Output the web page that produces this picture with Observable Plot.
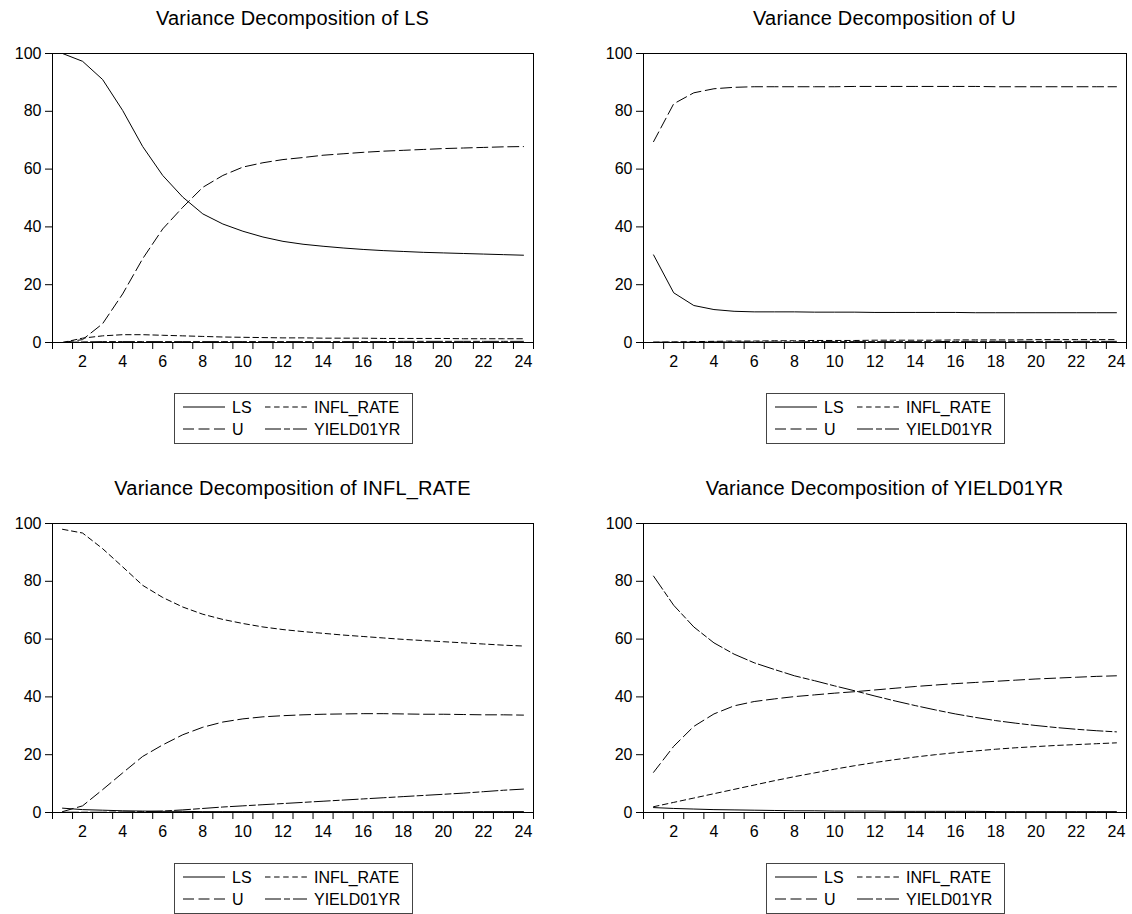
<!DOCTYPE html>
<html>
<head>
<meta charset="utf-8">
<script src="https://cdn.jsdelivr.net/npm/d3@7"></script>
<script src="https://cdn.jsdelivr.net/npm/@observablehq/plot@0.6"></script>
<style>
  html, body { margin: 0; padding: 0; background: #fff; }
  #root { position: relative; width: 1132px; height: 914px; overflow: hidden; font-family: "Liberation Sans", Arial, sans-serif; color: #000; }
  .title { position: absolute; width: 566px; text-align: center; font-size: 20px; line-height: 20px; white-space: nowrap; letter-spacing: 0.2px; }
  .panel { position: absolute; }
  .legend { position: absolute; }
</style>
</head>
<body>
<div id="root"></div>
<script>
// ---------- data ----------
const horizons = [1,2,3,4,5,6,7,8,9,10,11,12,13,14,15,16,17,18,19,20,21,22,23,24];
const seriesNames = ["LS", "U", "INFL_RATE", "YIELD01YR"];
const panelTitles = ["Variance Decomposition of LS", "Variance Decomposition of U",
                     "Variance Decomposition of INFL_RATE", "Variance Decomposition of YIELD01YR"];
const yTicks = [0, 20, 40, 60, 80, 100];
const xLabelTicks = [2,4,6,8,10,12,14,16,18,20,22,24];

// Variance decomposition of LS
const ls_LS    = [100,97.3,91,80.3,67.8,57.8,50.3,44.5,41,38.5,36.5,35,34,33.3,32.7,32.2,31.8,31.5,31.2,31,30.8,30.6,30.4,30.2];
const ls_U     = [0,1,6.5,16.8,29,39.3,46.8,53.7,57.8,60.7,62.2,63.3,64,64.8,65.3,65.8,66.2,66.5,66.8,67.1,67.3,67.5,67.7,67.8];
const ls_INFL  = [0,1.5,2.3,2.7,2.7,2.5,2.3,2.1,1.9,1.8,1.7,1.6,1.6,1.5,1.5,1.5,1.4,1.4,1.4,1.4,1.3,1.3,1.3,1.3];
const ls_YIELD = [0,0.2,0.3,0.3,0.3,0.3,0.3,0.3,0.3,0.3,0.3,0.3,0.3,0.3,0.3,0.3,0.3,0.4,0.4,0.4,0.4,0.4,0.4,0.4];

// Variance decomposition of U
const u_LS    = [30.3,17.2,12.8,11.4,10.8,10.6,10.6,10.6,10.5,10.5,10.5,10.4,10.4,10.4,10.4,10.4,10.3,10.3,10.3,10.3,10.3,10.3,10.3,10.3];
const u_U     = [69.5,82.6,86.4,87.8,88.3,88.5,88.5,88.5,88.5,88.5,88.6,88.6,88.6,88.6,88.6,88.6,88.6,88.5,88.5,88.5,88.5,88.5,88.5,88.5];
const u_INFL  = [0.1,0.2,0.3,0.4,0.5,0.5,0.6,0.6,0.7,0.7,0.7,0.8,0.8,0.8,0.8,0.9,0.9,0.9,0.9,1,1,1,1,1];
const u_YIELD = [0.1,0.1,0.1,0.2,0.2,0.2,0.2,0.2,0.3,0.3,0.3,0.3,0.3,0.3,0.3,0.4,0.4,0.4,0.4,0.4,0.4,0.4,0.4,0.4];

// Variance decomposition of INFL_RATE
const infl_LS    = [1.5,1,0.8,0.6,0.5,0.4,0.4,0.3,0.3,0.3,0.3,0.3,0.3,0.3,0.3,0.3,0.3,0.3,0.3,0.3,0.3,0.3,0.3,0.3];
const infl_U     = [0.3,2.3,7.9,13.7,19.4,23.4,26.9,29.5,31.3,32.4,33.1,33.5,33.8,34,34.1,34.2,34.2,34.1,34,34,33.9,33.8,33.8,33.7];
const infl_INFL  = [98,96.7,91.3,85,78.6,74.4,71.1,68.6,66.8,65.4,64.2,63.3,62.6,62,61.4,60.9,60.4,59.9,59.5,59.1,58.7,58.3,57.9,57.6];
const infl_YIELD = [0.1,0.1,0.1,0.2,0.3,0.5,0.9,1.4,1.9,2.3,2.7,3.1,3.5,3.9,4.3,4.7,5.1,5.5,5.9,6.3,6.7,7.2,7.7,8.1];

// Variance decomposition of YIELD01YR
const y_LS    = [1.7,1.4,1.2,1,0.9,0.8,0.7,0.6,0.6,0.5,0.5,0.5,0.4,0.4,0.4,0.4,0.4,0.3,0.3,0.3,0.3,0.3,0.3,0.3];
const y_U     = [13.9,22.9,29.8,34.1,36.9,38.4,39.3,40.1,40.7,41.3,41.8,42.4,43,43.6,44.1,44.6,45,45.4,45.8,46.2,46.5,46.8,47.1,47.3];
const y_INFL  = [2,3.5,5,6.5,8,9.5,11,12.4,13.7,15,16.2,17.3,18.3,19.2,20,20.7,21.3,21.9,22.4,22.8,23.2,23.5,23.8,24.1];
const y_YIELD = [81.8,71.7,64.2,58.7,54.8,51.8,49.5,47.3,45.6,43.8,42.1,40.3,38.6,37,35.5,34.1,32.9,31.8,30.9,30.1,29.4,28.8,28.3,27.9];

// line styles per series (legend + lines)
const dashes = { LS: null, U: "11,4.5", INFL_RATE: "5.5,3.6", YIELD01YR: "16,3,6,3" };

// ---------- layout ----------
const panels = [
  { title: panelTitles[0], left: 0,   top: 40,  mL: 52, mR: 33, data: [ls_LS, ls_U, ls_INFL, ls_YIELD] },
  { title: panelTitles[1], left: 566, top: 40,  mL: 77, mR: 6,  data: [u_LS, u_U, u_INFL, u_YIELD] },
  { title: panelTitles[2], left: 0,   top: 510, mL: 52, mR: 33, data: [infl_LS, infl_U, infl_INFL, infl_YIELD] },
  { title: panelTitles[3], left: 566, top: 510, mL: 77, mR: 6,  data: [y_LS, y_U, y_INFL, y_YIELD] }
];
const boundaries = d3.range(0.5, 25, 1);
const root = document.getElementById("root");

panels.forEach((p) => {
  const W = 566, H = 332, mT = 13, mB = 30;
  const marks = [];
  seriesNames.forEach((name, i) => {
    const rows = horizons.map((h, k) => ({ h, v: p.data[i][k] }));
    const opts = { x: "h", y: "v", stroke: "black", strokeWidth: 1 };
    if (dashes[name]) opts.strokeDasharray = dashes[name];
    marks.push(Plot.line(rows, opts));
  });
  marks.push(Plot.frame({ stroke: "black", strokeWidth: 1 }));
  marks.push(Plot.axisY({ ticks: yTicks, tickSize: 7, tickPadding: 4, fontSize: 16, label: null }));
  marks.push(Plot.axisX({ ticks: boundaries, tickSize: 7, tickFormat: () => "", label: null }));
  marks.push(Plot.axisX({ ticks: xLabelTicks, tickSize: 0, tickPadding: 13, fontSize: 16, label: null }));

  const svg = Plot.plot({
    width: W, height: H,
    marginLeft: p.mL, marginRight: p.mR, marginTop: mT, marginBottom: mB,
    x: { domain: [0.5, 24.5] },
    y: { domain: [0, 100] },
    style: { fontFamily: '"Liberation Sans", Arial, sans-serif', fontSize: "16px", color: "black", background: "white", overflow: "visible" },
    marks
  });
  const wrap = document.createElement("div");
  wrap.className = "panel";
  wrap.style.left = p.left + "px";
  wrap.style.top = p.top + "px";
  wrap.appendChild(svg);
  root.appendChild(wrap);

  // title centred over the frame
  const frameCenter = p.left + p.mL + (W - p.mL - p.mR) / 2;
  const t = document.createElement("div");
  t.className = "title";
  t.textContent = p.title;
  t.style.left = (frameCenter - 283) + "px";
  t.style.top = (p.top - 32) + "px";
  root.appendChild(t);

  // legend box
  const bx = frameCenter - 119, by = p.top + 353;
  const lg = document.createElement("div");
  lg.className = "legend";
  lg.style.left = bx + "px";
  lg.style.top = by + "px";
  const items = [
    { name: "LS", x: 9, y: 14 }, { name: "INFL_RATE", x: 91, y: 14 },
    { name: "U", x: 9, y: 36 }, { name: "YIELD01YR", x: 91, y: 36 }
  ];
  let s = `<svg width="239" height="51" xmlns="http://www.w3.org/2000/svg" style="display:block">`;
  s += `<rect x="0.5" y="0.5" width="238" height="50" fill="white" stroke="#444" stroke-width="1"/>`;
  items.forEach(it => {
    const da = dashes[it.name] ? ` stroke-dasharray="${dashes[it.name]}"` : "";
    s += `<line x1="${it.x}" x2="${it.x + 42}" y1="${it.y}" y2="${it.y}" stroke="black" stroke-width="1"${da}/>`;
    s += `<text x="${it.x + 49}" y="${it.y}" dy="0.36em" font-size="16" font-family="Liberation Sans, Arial, sans-serif" fill="black">${it.name}</text>`;
  });
  s += `</svg>`;
  lg.innerHTML = s;
  root.appendChild(lg);
});
</script>
</body>
</html>
